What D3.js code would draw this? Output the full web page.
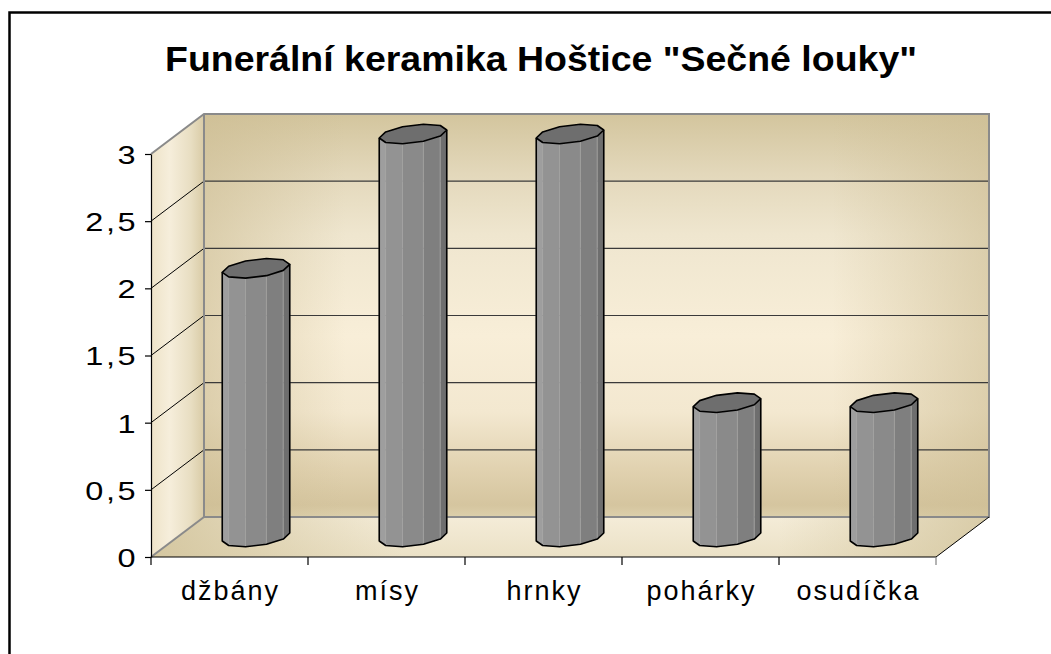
<!DOCTYPE html>
<html>
<head>
<meta charset="utf-8">
<script src="https://cdn.jsdelivr.net/npm/d3@7"></script>
<style>
    body { margin: 0; background: white; overflow: hidden; }
    text { font-family: "Liberation Sans", Arial, sans-serif; fill: black; }
</style>
</head>
<body>
<svg width="1051" height="654"></svg>
<script>
// Chart data
const categories = ["džbány", "mísy", "hrnky", "pohárky", "osudíčka"]
const counts = [2, 3, 3, 1, 1]
const y_ticks = [0, 0.5, 1, 1.5, 2, 2.5, 3]
const title_text = 'Funerální keramika Hoštice "Sečné louky"'

const svg = d3.select("svg")

// Plot geometry (front plane + oblique depth offset)
const front_left = 151, front_right = 936
const front_bottom = 557, front_top = 154
const depth_x = 53, depth_y = -40

const x = d3.scaleBand().domain(categories).range([front_left, front_right])
const y = d3.scaleLinear().domain([0, 3]).range([front_bottom, front_top])

const back_left = front_left + depth_x
const back_right = front_right + depth_x
const back_top = y(3) + depth_y
const back_bottom = y(0) + depth_y

// Outer frame
svg.append("rect")
    .attr("x", 9.5).attr("y", 12.5)
    .attr("width", 1200).attr("height", 800)
    .attr("fill", "white")
    .attr("stroke", "black")
    .attr("stroke-width", 2.5)

// Title
svg.append("text")
    .attr("x", 541).attr("y", 71)
    .attr("text-anchor", "middle")
    .attr("font-size", "35px")
    .attr("font-weight", "bold")
    .attr("textLength", 752)
    .attr("lengthAdjust", "spacingAndGlyphs")
    .text(title_text)

// Gradients
const defs = svg.append("defs")

function add_gradient(id, stops, horizontal) {
    const grad = defs.append("linearGradient")
        .attr("id", id)
        .attr("x1", 0).attr("y1", 0)
        .attr("x2", horizontal ? 1 : 0).attr("y2", horizontal ? 0 : 1)
    stops.forEach(function(s) {
        grad.append("stop")
            .attr("offset", s[0])
            .attr("stop-color", s[1])
            .attr("stop-opacity", s.length > 2 ? s[2] : 1)
    })
}

add_gradient("back_v", [
    [0, "#d3c59d"], [0.15, "#e3d8bb"], [0.3, "#efe6cf"], [0.55, "#f8eed8"],
    [0.74, "#f3e8d0"], [0.88, "#e1d2b0"], [0.97, "#d5c59f"], [1, "#dccfab"]
], false)
add_gradient("back_h", [
    [0, "#cdbd93", 0.6], [0.18, "#cdbd93", 0], [0.8, "#cdbd93", 0], [1, "#cdbd93", 0.6]
], true)
add_gradient("left_wall", [
    [0, "#eee3c8"], [0.35, "#f6eedb"], [0.75, "#e8dec2"], [1, "#d9cba6"]
], true)
add_gradient("floor_v", [
    [0, "#f4ecd8"], [1, "#ebe1c6"]
], false)
add_gradient("floor_h", [
    [0, "#d2c49c", 0.9], [0.3, "#d2c49c", 0], [0.75, "#d2c49c", 0], [1, "#d2c49c", 0.8]
], true)

// Walls and floor
const back_wall = [[back_left, back_top], [back_right, back_top], [back_right, back_bottom], [back_left, back_bottom]]
const left_wall = [[front_left, y(3)], [back_left, back_top], [back_left, back_bottom], [front_left, y(0)]]
const floor = [[front_left, y(0)], [front_right, y(0)], [back_right, back_bottom], [back_left, back_bottom]]

const line = d3.line()

svg.append("path").attr("d", line(back_wall) + "Z").attr("fill", "url(#back_v)")
svg.append("path").attr("d", line(back_wall) + "Z").attr("fill", "url(#back_h)")
svg.append("path").attr("d", line(left_wall) + "Z").attr("fill", "url(#left_wall)")
svg.append("path").attr("d", line(floor) + "Z").attr("fill", "url(#floor_v)")
svg.append("path").attr("d", line(floor) + "Z").attr("fill", "url(#floor_h)")

// Gridlines on left and back walls
const inner_ticks = y_ticks.filter(v => v > 0 && v < 3)

svg.selectAll(".grid_left")
    .data(inner_ticks)
    .enter()
    .append("line")
    .attr("x1", front_left).attr("y1", d => y(d))
    .attr("x2", back_left).attr("y2", d => y(d) + depth_y)
    .attr("stroke", "black")
    .attr("stroke-width", 1)

svg.selectAll(".grid_back")
    .data(inner_ticks)
    .enter()
    .append("line")
    .attr("x1", back_left).attr("y1", d => y(d) + depth_y)
    .attr("x2", back_right).attr("y2", d => y(d) + depth_y)
    .attr("stroke", "#3a3a3a")
    .attr("stroke-width", 1.2)

// Gray wall edges
const edge_color = "#8a8a8a"
svg.append("path")
    .attr("d", line([[front_left, y(3)], [back_left, back_top], [back_right, back_top], [back_right, back_bottom], [back_left, back_bottom], [back_left, back_top]]))
    .attr("fill", "none")
    .attr("stroke", edge_color)
    .attr("stroke-width", 2)
svg.append("path")
    .attr("d", line([[front_left, y(0)], [back_left, back_bottom]]))
    .attr("fill", "none")
    .attr("stroke", edge_color)
    .attr("stroke-width", 2)
svg.append("path")
    .attr("d", line([[front_right, y(0)], [back_right, back_bottom]]))
    .attr("fill", "none")
    .attr("stroke", "black")
    .attr("stroke-width", 1)

// Cylinder bars (faceted prisms)
const segments = 10
const bar_ratio = 0.43
const top_ry = 9
const top_skew = 4
const strip_colors = ["#9e9e9e", "#939393", "#8a8a8a", "#7f7f7f", "#6e6e6e"]

function ring_point(cx, cy, rx, t) {
    return [cx + rx * Math.cos(t), cy - top_ry * Math.sin(t) - top_skew * Math.cos(t)]
}

const bars = svg.selectAll(".bar")
    .data(categories.map((c, i) => ({ category: c, value: counts[i] })))
    .enter()
    .append("g")
    .attr("class", "bar")

bars.each(function(d) {
    const g = d3.select(this)
    const rx = x.bandwidth() * bar_ratio / 2
    const cx = x(d.category) + x.bandwidth() / 2 + depth_x / 2
    const base_cy = y(0) + depth_y / 2
    const top_cy = y(d.value) + depth_y / 2

    const step = 2 * Math.PI / segments
    const angles = d3.range(segments).map(k => k * step)
    const front_angles = d3.range(segments / 2 + 1).map(k => Math.PI + k * step)

    // Front facing strips
    for (let k = 0; k < segments / 2; k++) {
        const t0 = front_angles[k], t1 = front_angles[k + 1]
        g.append("path")
            .attr("d", line([
                ring_point(cx, top_cy, rx, t0), ring_point(cx, top_cy, rx, t1),
                ring_point(cx, base_cy, rx, t1), ring_point(cx, base_cy, rx, t0)
            ]) + "Z")
            .attr("fill", strip_colors[k])
            .attr("stroke", "#a6a6a6")
            .attr("stroke-width", 0.6)
    }

    // Top face
    g.append("path")
        .attr("d", line(angles.map(t => ring_point(cx, top_cy, rx, t))) + "Z")
        .attr("fill", "#6e6e6e")
        .attr("stroke", "black")
        .attr("stroke-width", 1.6)
        .attr("stroke-linejoin", "round")

    // Silhouette
    const outline = [ring_point(cx, top_cy, rx, Math.PI)]
        .concat(front_angles.map(t => ring_point(cx, base_cy, rx, t)))
        .concat([ring_point(cx, top_cy, rx, 2 * Math.PI)])
    g.append("path")
        .attr("d", line(outline))
        .attr("fill", "none")
        .attr("stroke", "black")
        .attr("stroke-width", 1.6)
        .attr("stroke-linejoin", "round")
})

// Y axis
const label_stretch = 1.25
const y_axis = d3.axisLeft(y)
    .tickValues(y_ticks)
    .tickSize(6)
    .tickSizeOuter(0)
    .tickFormat(d => String(d).replace(".", ","))

const y_g = svg.append("g")
    .attr("transform", `translate(${front_left},0)`)
    .call(y_axis)
y_g.select(".domain").attr("stroke", "black").attr("stroke-width", 1.2)
y_g.selectAll(".tick line").attr("stroke", "black").attr("stroke-width", 1.2)
y_g.selectAll(".tick text")
    .attr("font-size", "26px")
    .attr("font-family", "Liberation Sans, Arial, sans-serif")
    .attr("letter-spacing", "2px")
    .attr("x", -13 / label_stretch)
    .attr("dy", "0.36em")
    .attr("transform", `scale(${label_stretch},1)`)

// X axis
svg.append("line")
    .attr("x1", front_left).attr("y1", y(0))
    .attr("x2", front_right).attr("y2", y(0))
    .attr("stroke", "black")
    .attr("stroke-width", 1.2)

const boundaries = categories.map(c => x(c)).concat([front_right])
svg.selectAll(".x_tick")
    .data(boundaries)
    .enter()
    .append("line")
    .attr("x1", d => d).attr("x2", d => d)
    .attr("y1", y(0)).attr("y2", y(0) + 8)
    .attr("stroke", (d, i) => i === boundaries.length - 1 ? "#808080" : "black")
    .attr("stroke-width", 1.2)

svg.selectAll(".x_label")
    .data(categories)
    .enter()
    .append("text")
    .attr("x", d => x(d) + x.bandwidth() / 2 + 1)
    .attr("y", 600)
    .attr("text-anchor", "middle")
    .attr("font-size", "27px")
    .attr("letter-spacing", "2px")
    .text(d => d)
</script>
</body>
</html>
